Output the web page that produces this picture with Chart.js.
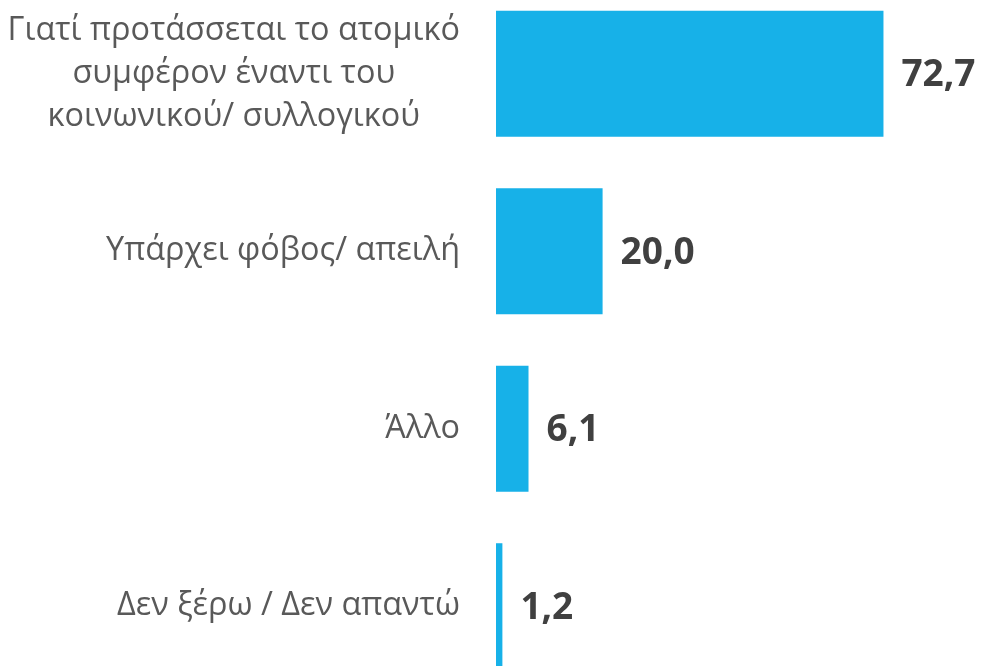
<!DOCTYPE html>
<html>
<head>
<meta charset="utf-8">
<script src="https://cdn.jsdelivr.net/npm/chart.js@4.4.1/dist/chart.umd.min.js"></script>
<style>
  html, body { margin: 0; padding: 0; background: #ffffff; overflow: hidden; }
  #wrap { position: relative; width: 981px; height: 666px; overflow: hidden; }
  #box { position: absolute; left: 0; top: -15px; width: 981px; height: 710px; }
</style>
</head>
<body>
<div id="wrap"><div id="box"><canvas id="c"></canvas></div></div>
<script>
const categories = [
  ["Γιατί προτάσσεται το ατομικό", "συμφέρον έναντι του", "κοινωνικού/ συλλογικού"],
  ["Υπάρχει φόβος/ απειλή"],
  ["Άλλο"],
  ["Δεν ξέρω / Δεν απαντώ"]
];
const values = [72.7, 20.0, 6.1, 1.2];
const valueLabels = ["72,7", "20,0", "6,1", "1,2"];

const LABEL_FONT = '32.4px "Open Sans", sans-serif';
const VALUE_FONT = 'bold 37px "Open Sans", sans-serif';

const labelPlugin = {
  id: 'labelPlugin',
  afterDatasetsDraw(chart) {
    const ctx = chart.ctx;
    const yScale = chart.scales.y;
    const meta = chart.getDatasetMeta(0);
    ctx.save();
    // category labels: block right-aligned, lines centred in block
    ctx.font = LABEL_FONT;
    ctx.fillStyle = '#595959';
    ctx.textAlign = 'center';
    ctx.textBaseline = 'middle';
    const rightEdge = chart.chartArea.left - 36;
    const lh = 43;
    categories.forEach((lines, i) => {
      const y = yScale.getPixelForValue(i);
      const w = Math.max(...lines.map(l => ctx.measureText(l).width));
      const cx = rightEdge - w / 2;
      const y0 = y - (lines.length - 1) * lh / 2;
      lines.forEach((l, k) => ctx.fillText(l, cx, y0 + k * lh));
    });
    // value labels
    ctx.font = VALUE_FONT;
    ctx.fillStyle = '#404040';
    ctx.textAlign = 'left';
    meta.data.forEach((bar, i) => {
      ctx.fillText(valueLabels[i], bar.x + 18, bar.y + 2);
    });
    ctx.restore();
  }
};

new Chart(document.getElementById('c'), {
  type: 'bar',
  data: {
    labels: categories,
    datasets: [{
      data: values,
      backgroundColor: '#17B1E8',
      borderWidth: 0,
      barPercentage: 0.71,
      categoryPercentage: 1.0
    }]
  },
  options: {
    indexAxis: 'y',
    responsive: true,
    maintainAspectRatio: false,
    animation: false,
    layout: { padding: 0 },
    plugins: { legend: { display: false }, tooltip: { enabled: false } },
    scales: {
      x: {
        display: false,
        min: 0,
        max: 91
      },
      y: {
        display: true,
        grid: { display: false, drawBorder: false },
        border: { display: false },
        ticks: { display: false },
        afterFit(scale) { scale.width = 496; }
      }
    }
  },
  plugins: [labelPlugin]
});
</script>
</body>
</html>
